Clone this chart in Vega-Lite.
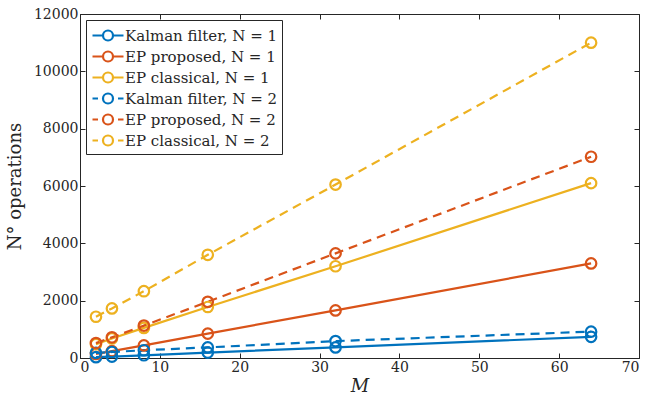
{
  "$schema": "https://vega.github.io/schema/vega-lite/v6.json",
  "width": 559,
  "height": 344,
  "autosize": "none",
  "padding": {"left": 80, "top": 14, "right": 8, "bottom": 49},
  "background": "white",
  "config": {
    "font": "DejaVu Serif",
    "view": {"stroke": "#262626", "strokeWidth": 1},
    "axis": {
      "labelFont": "DejaVu Serif",
      "titleFont": "DejaVu Serif",
      "labelFontSize": 14,
      "titleFontSize": 18,
      "titleFontWeight": "normal",
      "labelColor": "#262626",
      "titleColor": "#262626",
      "domainColor": "#262626",
      "tickColor": "#262626",
      "gridColor": "#e6e6e6",
      "tickSize": -5,
      "labelPadding": 7
    }
  },
  "data": {
    "values": [
      {"M": 2, "v": 30, "s": "Kalman filter, N = 1"},
      {"M": 4, "v": 50, "s": "Kalman filter, N = 1"},
      {"M": 8, "v": 95, "s": "Kalman filter, N = 1"},
      {"M": 16, "v": 190, "s": "Kalman filter, N = 1"},
      {"M": 32, "v": 370, "s": "Kalman filter, N = 1"},
      {"M": 64, "v": 740, "s": "Kalman filter, N = 1"},
      {"M": 2, "v": 140, "s": "EP proposed, N = 1"},
      {"M": 4, "v": 240, "s": "EP proposed, N = 1"},
      {"M": 8, "v": 440, "s": "EP proposed, N = 1"},
      {"M": 16, "v": 850, "s": "EP proposed, N = 1"},
      {"M": 32, "v": 1660, "s": "EP proposed, N = 1"},
      {"M": 64, "v": 3300, "s": "EP proposed, N = 1"},
      {"M": 2, "v": 480, "s": "EP classical, N = 1"},
      {"M": 4, "v": 680, "s": "EP classical, N = 1"},
      {"M": 8, "v": 1050, "s": "EP classical, N = 1"},
      {"M": 16, "v": 1780, "s": "EP classical, N = 1"},
      {"M": 32, "v": 3200, "s": "EP classical, N = 1"},
      {"M": 64, "v": 6100, "s": "EP classical, N = 1"},
      {"M": 2, "v": 180, "s": "Kalman filter, N = 2"},
      {"M": 4, "v": 210, "s": "Kalman filter, N = 2"},
      {"M": 8, "v": 270, "s": "Kalman filter, N = 2"},
      {"M": 16, "v": 370, "s": "Kalman filter, N = 2"},
      {"M": 32, "v": 590, "s": "Kalman filter, N = 2"},
      {"M": 64, "v": 920, "s": "Kalman filter, N = 2"},
      {"M": 2, "v": 520, "s": "EP proposed, N = 2"},
      {"M": 4, "v": 720, "s": "EP proposed, N = 2"},
      {"M": 8, "v": 1130, "s": "EP proposed, N = 2"},
      {"M": 16, "v": 1960, "s": "EP proposed, N = 2"},
      {"M": 32, "v": 3650, "s": "EP proposed, N = 2"},
      {"M": 64, "v": 7020, "s": "EP proposed, N = 2"},
      {"M": 2, "v": 1440, "s": "EP classical, N = 2"},
      {"M": 4, "v": 1730, "s": "EP classical, N = 2"},
      {"M": 8, "v": 2330, "s": "EP classical, N = 2"},
      {"M": 16, "v": 3600, "s": "EP classical, N = 2"},
      {"M": 32, "v": 6050, "s": "EP classical, N = 2"},
      {"M": 64, "v": 11000, "s": "EP classical, N = 2"}
    ]
  },
  "layer": [
    {
      "mark": {"type": "point", "opacity": 0},
      "encoding": {
        "x": {
          "field": "M", "type": "quantitative",
          "scale": {"domain": [0, 70], "nice": false},
          "axis": {"orient": "top", "values": [0, 10, 20, 30, 40, 50, 60, 70], "labels": false, "domain": false, "grid": false, "title": null}
        },
        "y": {
          "field": "v", "type": "quantitative",
          "scale": {"domain": [0, 12000], "nice": false},
          "axis": {"orient": "right", "values": [0, 2000, 4000, 6000, 8000, 10000, 12000], "labels": false, "domain": false, "grid": false, "title": null}
        }
      }
    },
    {
      "layer": [
        {
          "transform": [{"filter": "indexof(datum.s, 'N = 1') >= 0"}],
          "mark": {"type": "line", "strokeWidth": 2.2}
        },
        {
          "transform": [{"filter": "indexof(datum.s, 'N = 2') >= 0"}],
          "mark": {"type": "line", "strokeWidth": 2.2, "strokeDash": [9, 6]}
        },
        {
          "mark": {"type": "point", "filled": false, "size": 110, "strokeWidth": 2.2, "opacity": 1}
        }
      ],
      "encoding": {
        "x": {
          "field": "M", "type": "quantitative",
          "scale": {"domain": [0, 70], "nice": false},
          "axis": {"values": [0, 10, 20, 30, 40, 50, 60, 70], "title": "M", "titleFontStyle": "italic", "titlePadding": 3}
        },
        "y": {
          "field": "v", "type": "quantitative",
          "scale": {"domain": [0, 12000], "nice": false},
          "axis": {"values": [0, 2000, 4000, 6000, 8000, 10000, 12000], "format": "d", "title": "N° operations", "titlePadding": 9}
        },
        "color": {
          "field": "s", "type": "nominal",
          "scale": {
            "domain": ["Kalman filter, N = 1", "EP proposed, N = 1", "EP classical, N = 1", "Kalman filter, N = 2", "EP proposed, N = 2", "EP classical, N = 2"],
            "range": ["#0072BD", "#D95319", "#EDB120", "#0072BD", "#D95319", "#EDB120"]
          },
          "legend": {
            "title": null,
            "orient": "top-left",
            "offset": 6,
            "padding": 4,
            "strokeColor": "#262626",
            "fillColor": "white",
            "labelFont": "DejaVu Serif",
            "labelFontSize": 15,
            "labelColor": "#262626",
            "labelOffset": 12,
            "symbolSize": 400,
            "symbolStrokeWidth": 2.2,
            "symbolOpacity": 1,
            "rowPadding": 0,
            "encode": {
              "symbols": {
                "update": {
                  "shape": {"signal": "indexof(datum.value, 'N = 2') >= 0 ? 'M-1.55,0L-1.0,0M0.5,0A0.5,0.5,0,1,1,-0.5,0A0.5,0.5,0,1,1,0.5,0M1.0,0L1.55,0' : 'M-1.55,0L-0.5,0M0.5,0L1.55,0M0.5,0A0.5,0.5,0,1,1,-0.5,0A0.5,0.5,0,1,1,0.5,0'"},
                  "fill": {"value": "transparent"},
                  "opacity": {"value": 1},
                  "xc": {"value": 18}
                }
              }
            }
          }
        }
      }
    }
  ],
  "resolve": {"scale": {"x": "independent", "y": "independent"}}
}
